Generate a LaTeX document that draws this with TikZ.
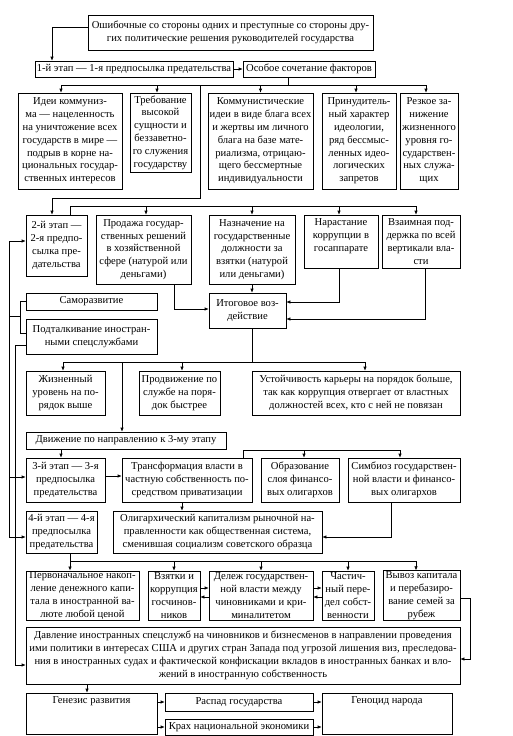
\documentclass[tikz,border=0pt]{standalone}
\usepackage{fontspec}
\setmainfont{Liberation Serif}
\usetikzlibrary{arrows.meta, positioning}

\begin{document}
\begin{tikzpicture}[x=1pt, y=-1pt, >={Latex[length=4pt,width=3.4pt]}, line width=0.6pt]

  % Define styles
  \tikzstyle{box} = [rectangle, draw, align=center, inner sep=1pt, font=\fontsize{10.6}{12.8}\selectfont]
  \tikzstyle{caption} = [inner sep=1pt, font=\fontsize{10.6}{12.8}\selectfont]

  \useasboundingbox (0,0) rectangle (512,736);

  % Stage 1
  \node[box, minimum width=285, minimum height=35] (mistakes) at (230.5,32.5) {Ошибочные со стороны одних и преступные со стороны дру-\\гих политические решения руководителей государства};
  \node[box, minimum width=198, minimum height=16] (st1) at (134,69) {1-й этап — 1-я предпосылка предательства};
  \node[box, minimum width=132, minimum height=16] (factors) at (309,69) {Особое сочетание факторов};

  \node[box, minimum width=104, minimum height=96] (ideas) at (70,141) {Идеи коммуниз-\\ма — нацеленность\\на уничтожение всех\\государств в мире —\\подрыв в корне на-\\циональных государ-\\ственных интересов};
  \node[box, minimum width=61, minimum height=79] (demand) at (160.5,132.5) {Требование\\высокой\\сущности и\\беззаветно-\\го служения\\государству};
  \node[box, minimum width=105, minimum height=96] (commid) at (260.5,141) {Коммунистические\\идеи в виде блага всех\\и жертвы им личного\\блага на базе мате-\\риализма, отрицаю-\\щего бессмертные\\индивидуальности};
  \node[box, minimum width=74, minimum height=96] (forced) at (359,141) {Принудитель-\\ный характер\\идеологии,\\ряд бессмыс-\\ленных идео-\\логических\\запретов};
  \node[box, minimum width=58, minimum height=96] (drop) at (429,141) {Резкое за-\\нижение\\жизненного\\уровня го-\\сударствен-\\ных служа-\\щих};

  \draw[->] ([yshift=5.5]mistakes.west) -| ([xshift=-82]st1.north);
  \draw[->] (st1.east) -- (factors.west);

  \coordinate (busA) at (288,85);
  \draw (factors.south -| busA) -- (busA);
  \draw ([xshift=-9]ideas.north |- busA) -- ([xshift=-3]drop.north |- busA);
  \draw[->] ([xshift=-9]ideas.north |- busA) -- ([xshift=-9]ideas.north);
  \draw[->] ([xshift=-3.5]demand.north |- busA) -- ([xshift=-3.5]demand.north);
  \draw[->] (commid.north |- busA) -- (commid.north);
  \draw[->] ([xshift=-3]forced.north |- busA) -- ([xshift=-3]forced.north);
  \draw[->] ([xshift=-3]drop.north |- busA) -- ([xshift=-3]drop.north);

  % Stage 2
  \node[box, minimum width=61, minimum height=61] (st2) at (56.5,245.5) {2-й этап —\\2-я предпо-\\сылка пре-\\дательства};
  \node[box, minimum width=95, minimum height=69] (sale) at (143.5,249.5) {Продажа государ-\\ственных решений\\в хозяйственной\\сфере (натурой или\\деньгами)};
  \node[box, minimum width=86, minimum height=69] (appoint) at (252,249.5) {Назначение на\\государственные\\должности за\\взятки (натурой\\или деньгами)};
  \node[box, minimum width=74, minimum height=53] (growth) at (341,241.5) {Нарастание\\коррупции в\\госаппарате\\\mbox{}};
  \node[box, minimum width=78, minimum height=53] (mutual) at (421,241.5) {Взаимная под-\\держка по всей\\вертикали вла-\\сти};
  \node[box, minimum width=77, minimum height=35] (result) at (247.5,310.5) {Итоговое воз-\\действие};
  \node[box, minimum width=131, minimum height=17] (selfdev) at (91.5,301.5) {Саморазвитие};
  \node[box, minimum width=131, minimum height=35] (push) at (91.5,336.5) {Подталкивание иностран-\\ными спецслужбами};

  \coordinate (turnA) at (200,198);
  \draw[->] (turnA |- busA) -- (turnA) -| ([xshift=-4.5]st2.north);

  \coordinate (busB) at (70,206);
  \draw ([xshift=13.5]st2.north) -- (busB) -- ([xshift=-5]mutual.north |- busB);
  \draw[->] ([xshift=2.5]sale.north |- busB) -- ([xshift=2.5]sale.north);
  \draw[->] (appoint.north |- busB) -- (appoint.north);
  \draw[->] ([xshift=-2]growth.north |- busB) -- ([xshift=-2]growth.north);
  \draw[->] ([xshift=-5]mutual.north |- busB) -- ([xshift=-5]mutual.north);

  \draw[->] (appoint.south) -- (appoint.south |- result.north);
  \draw[->] ([xshift=30.5]sale.south) |- ([yshift=1.5]result.west);
  \draw[->] ([xshift=-2]growth.south) |- ([yshift=8.5]result.east);
  \draw[->] ([xshift=4]mutual.south) |- ([yshift=-8.5]result.east);

  % Effects
  \node[box, minimum width=79, minimum height=44] (living) at (65.5,393) {Жизненный\\уровень на по-\\рядок выше};
  \node[box, minimum width=81, minimum height=44] (promo) at (179.5,393) {Продвижение по\\службе на поря-\\док быстрее};
  \node[box, minimum width=208, minimum height=44] (stable) at (356,393) {Устойчивость карьеры на порядок больше,\\так как коррупция отвергает от властных\\должностей всех, кто с ней не повязан};
  \node[box, minimum width=200, minimum height=17] (move) at (126,440.5) {Движение по направлению к 3-му этапу};

  \coordinate (busC) at (252,362);
  \draw ([xshift=4.5]result.south) -- (busC);
  \draw ([xshift=-2.5]living.north |- busC) -- ([xshift=9]stable.north |- busC);
  \draw[->] ([xshift=-2.5]living.north |- busC) -- ([xshift=-2.5]living.north);
  \draw[->] ([xshift=2.5]promo.north |- busC) -- ([xshift=2.5]promo.north);
  \draw[->] ([xshift=9]stable.north |- busC) -- ([xshift=9]stable.north);
  \draw[->] ([xshift=-4]move.north |- busC) -- ([xshift=-4]move.north);

  % Stage 3
  \node[box, minimum width=79, minimum height=44] (st3) at (65.5,480) {3-й этап — 3-я\\предпосылка\\предательства};
  \node[box, minimum width=130, minimum height=44] (transf) at (187,480) {Трансформация власти в\\частную собственность по-\\средством приватизации};
  \node[box, minimum width=78, minimum height=44] (oligform) at (300,480) {Образование\\слоя финансо-\\вых олигархов};
  \node[box, minimum width=112, minimum height=44] (symb) at (404,480) {Симбиоз государствен-\\ной власти и финансо-\\вых олигархов};

  \draw[->] ([xshift=-4.5]st3.north |- move.south) -- ([xshift=-4.5]st3.north);
  \draw[->] ([yshift=4]st3.east) -- ([yshift=4]transf.west);

  \coordinate (busD) at (243,450);
  \draw ([xshift=56]transf.north) -- (busD) -- ([xshift=-4]symb.north |- busD);
  \draw[->] ([xshift=4]oligform.north |- busD) -- ([xshift=4]oligform.north);
  \draw[->] ([xshift=-4]symb.north |- busD) -- ([xshift=-4]symb.north);

  % Stage 4
  \node[box, minimum width=71, minimum height=42] (st4) at (61.5,532) {4-й этап — 4-я\\предпосылка\\предательства};
  \node[box, minimum width=209, minimum height=42] (olig) at (217.5,532) {Олигархический капитализм рыночной на-\\правленности как общественная система,\\сменившая социализм советского образца};

  \draw[->] ([xshift=-5]transf.south) -- ([xshift=-5]transf.south |- olig.north);
  \draw[->] ([xshift=-13]symb.south) |- ([yshift=-5]olig.east);

  \node[box, minimum width=113, minimum height=49] (accum) at (82.5,595.5) {Первоначальное накоп-\\ление денежного капи-\\тала в иностранной ва-\\люте любой ценой};
  \node[box, minimum width=52, minimum height=49] (bribes) at (174,595.5) {Взятки и\\коррупция\\госчинов-\\ников};
  \node[box, minimum width=104, minimum height=49] (divide) at (261,595.5) {Дележ государствен-\\ной власти между\\чиновниками и кри-\\миналитетом};
  \node[box, minimum width=52, minimum height=49] (partial) at (348,595.5) {Частич-\\ный пере-\\дел собст-\\венности};
  \node[box, minimum width=77, minimum height=49] (exportc) at (421.5,595.5) {Вывоз капитала\\и перебазиро-\\вание семей за\\рубеж};

  \coordinate (busE) at (70,561);
  \draw ([xshift=8.5]st4.south) -- (busE) -- ([xshift=-5.5]exportc.north |- busE);
  \draw[->] ([xshift=-12.5]accum.north |- busE) -- ([xshift=-12.5]accum.north);
  \draw[->] (bribes.north |- busE) -- (bribes.north);
  \draw[->] (divide.north |- busE) -- (divide.north);
  \draw[->] (partial.north |- busE) -- (partial.north);
  \draw[->] ([xshift=-5.5]exportc.north |- busE) -- ([xshift=-5.5]exportc.north);

  \draw[->] ([yshift=7.5]bribes.east) -- ([yshift=7.5]divide.west);
  \draw[->] ([yshift=-1.5]divide.west) -- ([yshift=-1.5]bribes.east);
  \draw[->] ([yshift=7.5]divide.east) -- ([yshift=7.5]partial.west);
  \draw[->] ([yshift=-1.5]partial.west) -- ([yshift=-1.5]divide.east);

  % Outcome
  \node[box, minimum width=434, minimum height=57] (pressure) at (243,655.5) {Давление иностранных спецслужб на чиновников и бизнесменов в направлении проведения\\ими политики в интересах США и других стран Запада под угрозой лишения виз, преследова-\\ния в иностранных судах и фактической конфискации вкладов в иностранных банках и вло-\\жений в иностранную собственность};

  \draw[->] ([yshift=-2.5]exportc.east) -- ++(10,0) |- ([yshift=-3.5]pressure.east);

  \node[box, minimum width=131, minimum height=41] (genesis) at (91.5,713.5) {};
  \node[caption, below=3pt of genesis.north] (genesis-t) {Генезис развития};
  \node[box, minimum width=148, minimum height=18] (collapse) at (239,702) {Распад государства};
  \node[box, minimum width=148, minimum height=16] (crash) at (239,727) {Крах национальной экономики};
  \node[box, minimum width=130, minimum height=41] (genocide) at (387,713.5) {};
  \node[caption, below=3pt of genocide.north] (genocide-t) {Геноцид народа};

  \draw[->] ([xshift=-4.5]genesis.north |- pressure.south) -- ([xshift=-4.5]genesis.north);
  \draw[->] (genesis.east |- collapse) -- (collapse.west);
  \draw[->] (genesis.east |- crash) -- (crash.west);
  \draw[->] (collapse.east) -- (genocide.west |- collapse);
  \draw[->] (crash.east) -- (genocide.west |- crash);

  % Left rails
  \coordinate (railA) at (9,316);
  \coordinate (joinA) at (20,316);
  \coordinate (railB) at (15,345);
  \draw (selfdev.west) -| (joinA) -- (railA);
  \draw ([yshift=3.5]push.west) -| (joinA);
  \draw[->] (railA) |- ([yshift=4.5]st2.west);
  \draw[->] (railA) |- ([yshift=3]st3.west);
  \draw[->] (railA) |- ([yshift=-5]st4.west);
  \draw (push.west |- railB) -- (railB);
  \draw[->] (railB) |- ([yshift=-9.5]pressure.west);

\end{tikzpicture}
\end{document}
